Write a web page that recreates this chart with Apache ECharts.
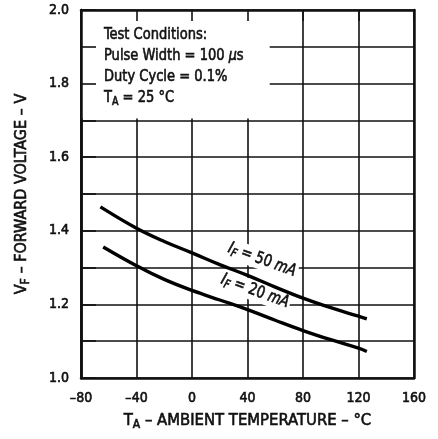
<!DOCTYPE html>
<html><head><meta charset="utf-8">
<script src="https://cdn.jsdelivr.net/npm/echarts@6/dist/echarts.min.js"></script>
<style>html,body{margin:0;padding:0;background:#fff}#c{width:438px;height:439px}</style>
</head><body><div id="c"></div>
<script>
const FONT = "'Liberation Sans Narrow','DejaVu Sans Condensed',sans-serif";
// Data
const temps50 = [-66, -40, -20, 0, 20, 40, 60, 80, 100, 120, 126];
const vf50    = [1.465, 1.407, 1.371, 1.340, 1.308, 1.279, 1.247, 1.217, 1.191, 1.168, 1.161];
const temps20 = [-64, -40, -20, 0, 20, 40, 60, 80, 100, 120, 126];
const vf20    = [1.356, 1.305, 1.268, 1.238, 1.212, 1.186, 1.157, 1.129, 1.104, 1.081, 1.072];
const xTickValues = [-80, -40, 0, 40, 80, 120, 160];
const yTickLabels = ['1.0', '1.2', '1.4', '1.6', '1.8', '2.0'];
const boxCorner = [56, 1.705]; // lower-right corner of the "Test Conditions" box (data units)
const label50Pos = [50.5, 1.321];
const label20Pos = [45.5, 1.236];

const pairs = (xs, ys) => xs.map((x, i) => [x, ys[i]]);
const chart = echarts.init(document.getElementById('c'), null, {renderer: 'canvas'});
const gridColor = '#111';
const W = 'normal';
const INK = '#111';
const SW = 0.6; // stroke to thicken glyphs
const labelStyle = {color: INK, fontFamily: FONT, fontWeight: W, fontSize: 14, textBorderColor: INK, textBorderWidth: SW};

const subRich = (size) => ({
  n: {fontFamily: FONT, fontWeight: W, fontSize: size, color: INK, textBorderColor: INK, textBorderWidth: SW},
  s: {fontFamily: FONT, fontWeight: W, fontSize: Math.round(size * 0.72), color: INK, textBorderColor: INK, textBorderWidth: SW,
      padding: [Math.round(size * 0.5), 0, 0, 0]}
});

chart.setOption({
  animation: false,
  grid: {left: 81, right: 24, top: 10, bottom: 61},
  xAxis: [{
    type: 'value', min: -80, max: 160, interval: 40, z: 0,
    axisLine: {show: true, onZero: false, lineStyle: {color: gridColor, width: 2.5}},
    axisTick: {show: false},
    splitLine: {show: true, lineStyle: {color: gridColor, width: 1.6}},
    axisLabel: Object.assign({margin: 13, formatter: v => xTickValues.includes(v) ? (v < 0 ? '–' + Math.abs(v) : String(v)) : ''}, labelStyle),
    name: '{n|T}{s|A}{n| – AMBIENT TEMPERATURE – °C}', nameLocation: 'middle', nameGap: 33,
    nameTextStyle: {rich: subRich(16.5)}
  }, {
    type: 'value', min: -80, max: 160, interval: 40, position: 'top', z: 3,
    axisLine: {show: true, onZero: false, lineStyle: {color: gridColor, width: 2.5}},
    axisTick: {show: true, inside: true, length: 11, lineStyle: {color: gridColor, width: 1.6}},
    splitLine: {show: false}, axisLabel: {show: false}
  }],
  yAxis: [{
    type: 'value', min: 1.0, max: 2.0, interval: 0.1, z: 0,
    axisLine: {show: true, onZero: false, lineStyle: {color: gridColor, width: 2.5}},
    axisTick: {show: false},
    splitLine: {show: true, lineStyle: {color: gridColor, width: 1.6}},
    axisLabel: Object.assign({margin: 12, formatter: v => {
      const t = v.toFixed(1); return yTickLabels.includes(t) ? t : '';
    }}, labelStyle),
    name: '{n|V}{s|F}{n| – FORWARD VOLTAGE – V}', nameLocation: 'middle', nameGap: 49,
    nameTextStyle: {rich: subRich(16)}
  }, {
    type: 'value', min: 1.0, max: 2.0, interval: 0.1, position: 'left', z: 3,
    axisLine: {show: true, onZero: false, lineStyle: {color: gridColor, width: 2.5}},
    axisTick: {show: true, inside: true, length: 15, lineStyle: {color: gridColor, width: 1.6}},
    splitLine: {show: false}, axisLabel: {show: false}
  }, {
    type: 'value', min: 1.0, max: 2.0, interval: 0.1, position: 'right', z: 3,
    axisLine: {show: true, onZero: false, lineStyle: {color: gridColor, width: 2.5}},
    axisTick: {show: false}, splitLine: {show: false}, axisLabel: {show: false}
  }],
  series: [{
    name: 'IF = 50 mA', type: 'line', smooth: 0.4, showSymbol: false, z: 2,
    data: pairs(temps50, vf50),
    lineStyle: {color: '#000', width: 3.4},
    markArea: {silent: true, itemStyle: {color: '#fff', opacity: 1},
      data: [[{coord: [-80, 2.0]}, {coord: boxCorner}]]}
  }, {
    name: 'IF = 20 mA', type: 'line', smooth: 0.4, showSymbol: false, z: 2,
    data: pairs(temps20, vf20),
    lineStyle: {color: '#000', width: 3.4}
  }]
});

const p50 = chart.convertToPixel({gridIndex: 0}, label50Pos);
const p20 = chart.convertToPixel({gridIndex: 0}, label20Pos);
const origin = chart.convertToPixel({gridIndex: 0}, [-80, 2.0]);
const tok = (size, italic) => ({fontFamily: FONT, fontWeight: W, fontStyle: italic ? 'italic' : 'normal', fontSize: size,
  fill: INK, stroke: INK, lineWidth: SW});
const boxRich = {n: tok(16.5), i: tok(16, true), s: Object.assign(tok(12), {padding: [8, 0, 0, 0]})};
const curveRich = {n: tok(16.5), i: tok(16.5, true), s: Object.assign(tok(12, true), {padding: [8, 0, 0, 0]})};
const lines = [
  '{n|Test Conditions:}',
  '{n|Pulse Width = 100 }{i|μ}{n|s}',
  '{n|Duty Cycle = 0.1%}',
  '{n|T}{s|A}{n| = 25 °C}'
];
const lineGap = 21;
const elements = lines.map((t, k) => ({
  type: 'text', z: 10, x: origin[0] + 23, y: origin[1] + 25 + k * lineGap, scaleX: 0.88,
  style: {text: t, rich: boxRich, align: 'left', verticalAlign: 'middle'}
}));
elements.push({
  type: 'text', z: 1, x: p50[0], y: p50[1], rotation: -0.35, scaleX: 0.88,
  style: {text: '{i|I}{s|F}{n| = 50 }{i|mA}', rich: curveRich, align: 'center', verticalAlign: 'middle',
    backgroundColor: '#fff', padding: [0, 2, 0, 2]}
});
elements.push({
  type: 'text', z: 1, x: p20[0], y: p20[1], rotation: -0.35, scaleX: 0.88,
  style: {text: '{i|I}{s|F}{n| = 20 }{i|mA}', rich: curveRich, align: 'center', verticalAlign: 'middle',
    backgroundColor: '#fff', padding: [0, 2, 0, 2]}
});
chart.setOption({graphic: {elements}});
</script>
</body></html>
